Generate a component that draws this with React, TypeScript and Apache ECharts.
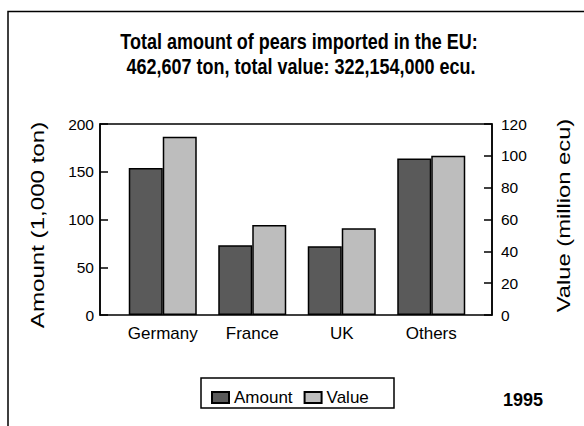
import React, { useEffect, useRef } from "react";
import * as echarts from "echarts";

const categories = ["Germany", "France", "UK", "Others"];
const amountValues = [154, 73, 72, 164];
const valueValues = [112, 56.5, 54.5, 100];
const seriesNames = ["Amount", "Value"];
const titleLines = [
  "Total amount of pears imported in the EU:",
  "462,607 ton, total value: 322,154,000 ecu.",
];
const leftAxisName = "Amount (1,000 ton)";
const rightAxisName = "Value (million ecu)";
const yearLabel = "1995";

const FONT = '"Liberation Sans", Arial, Helvetica, sans-serif';

function txt(text: string, x: number, y: number, size: number, bold: boolean, extra: any = {}) {
  return {
    type: "text",
    x,
    y,
    z: 100,
    ...extra,
    style: {
      text,
      fontSize: size,
      fontWeight: bold ? "bold" : "normal",
      fontFamily: FONT,
      fill: "#000",
      align: "center",
      verticalAlign: "middle",
      textAlign: "center",
      textVerticalAlign: "middle",
    },
  };
}

export default function App() {
  const ref = useRef<HTMLDivElement>(null);
  useEffect(() => {
    if (!ref.current) return;
    const chart = echarts.init(ref.current, undefined, { renderer: "svg" });
    const axisLine = { show: true, lineStyle: { color: "#000", width: 1.5 } };
    const axisTick = { show: true, inside: true, length: 8, lineStyle: { color: "#000", width: 1.5 } };
    const option: any = {
      animation: false,
      backgroundColor: "#fff",
      textStyle: { fontFamily: FONT, color: "#000" },
      grid: { left: 118, right: 108, top: 124, bottom: 111, containLabel: false },
      xAxis: {
        type: "category",
        data: categories,
        axisLine: { show: false },
        axisTick: { show: false },
        axisLabel: { color: "#000", fontSize: 17, margin: 10, interval: 0, fontFamily: FONT },
      },
      yAxis: [
        {
          type: "value",
          position: "left",
          offset: 18,
          min: 0,
          max: 200,
          interval: 50,
          axisLine,
          axisTick,
          splitLine: { show: false },
          axisLabel: { color: "#000", fontSize: 15.5, margin: 6, fontFamily: FONT },
        },
        {
          type: "value",
          position: "right",
          offset: 16,
          min: 0,
          max: 120,
          interval: 20,
          axisLine,
          axisTick,
          splitLine: { show: false },
          axisLabel: { color: "#000", fontSize: 15.5, margin: 9, fontFamily: FONT },
        },
      ],
      legend: {
        data: seriesNames,
        left: 211,
        top: 389,
        padding: 0,
        itemWidth: 17,
        itemHeight: 11,
        itemGap: 11,
        icon: "rect",
        textStyle: { color: "#000", fontSize: 17, fontFamily: FONT },
      },
      series: [
        {
          name: seriesNames[0],
          type: "bar",
          yAxisIndex: 0,
          data: amountValues,
          barWidth: 34,
          barGap: "0%",
          itemStyle: { color: "#5a5a5a", borderColor: "#000", borderWidth: 1.5 },
        },
        {
          name: seriesNames[1],
          type: "bar",
          yAxisIndex: 1,
          data: valueValues,
          barWidth: 34,
          barGap: "0%",
          itemStyle: { color: "#bdbdbd", borderColor: "#000", borderWidth: 1.5 },
        },
      ],
      graphic: [
        {
          type: "polyline",
          z: 100,
          shape: { points: [[8, 426], [8, 11.5], [584, 11.5]] },
          style: { stroke: "#000", lineWidth: 1.5, fill: "none" },
        },
        {
          type: "rect",
          z: 100,
          shape: { x: 100, y: 124, width: 392, height: 191 },
          style: { stroke: "#000", lineWidth: 1.5, fill: "none" },
        },
        {
          type: "rect",
          z: 100,
          shape: { x: 201, y: 378, width: 193, height: 30 },
          style: { stroke: "#000", lineWidth: 1.5, fill: "none" },
        },
        txt(titleLines[0], 299, 41.3, 18, true, { scaleY: 1.22 }),
        txt(titleLines[1], 301, 66, 18, true, { scaleY: 1.22 }),
        txt(leftAxisName, 38.5, 225, 18, false, { rotation: Math.PI / 2, scaleX: 1.34 }),
        txt(rightAxisName, 563.5, 215.5, 18, false, { rotation: Math.PI / 2, scaleX: 1.32 }),
        txt(yearLabel, 523, 400, 18, true),
      ],
    };
    chart.setOption(option);
    return () => chart.dispose();
  }, []);
  return (
    <div
      ref={ref}
      style={{ position: "absolute", left: 0, top: 0, width: 584, height: 426 }}
    />
  );
}
